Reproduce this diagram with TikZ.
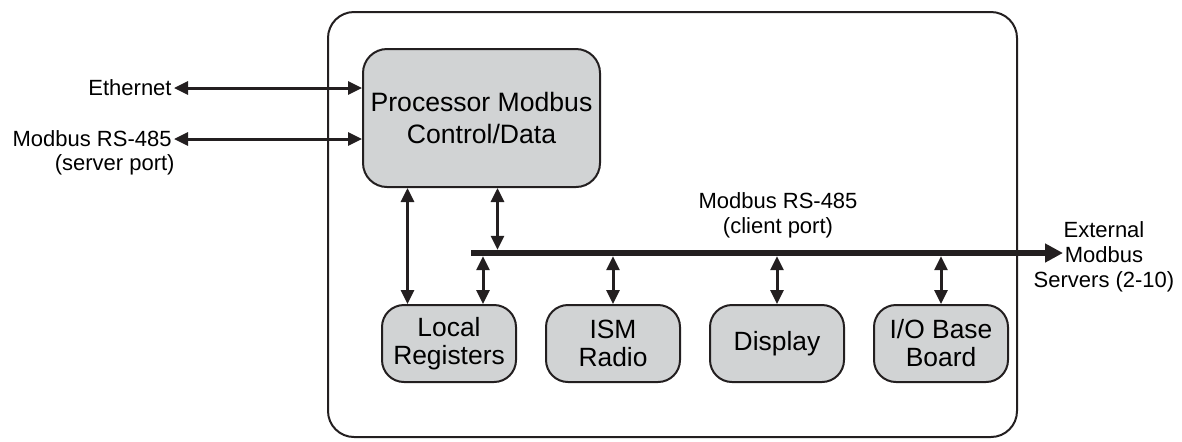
\documentclass[tikz,border=0pt]{standalone}
\usepackage{fontspec}
\setmainfont{Liberation Sans}
\usetikzlibrary{arrows.meta, positioning}
\definecolor{boxgray}{HTML}{D1D3D4}
\definecolor{inkdark}{HTML}{231F20}

\begin{document}
\begin{tikzpicture}[x=0.5pt, y=-0.5pt, node distance=14pt,
  procbox/.style={rectangle, draw=inkdark, line width=1pt, rounded corners=12pt, fill=boxgray, minimum width=118.5pt, minimum height=69pt, align=center, font=\fontsize{13.3}{16}\selectfont},
  unitbox/.style={rectangle, draw=inkdark, line width=1pt, rounded corners=11pt, fill=boxgray, minimum width=67pt, minimum height=38.5pt, inner sep=1pt, align=center, font=\fontsize{13.2}{14}\selectfont},
  lbl/.style={inner sep=1pt, align=center, font=\fontsize{11}{12.4}\selectfont},
  dbl/.style={{Triangle[length=7pt,width=6.5pt]}-{Triangle[length=7pt,width=6.5pt]}, line width=1.5pt, draw=inkdark},
  busline/.style={-{Triangle[length=9pt,width=9pt]}, line width=3.3pt, draw=inkdark}]

\useasboundingbox (0,0) rectangle (1182,441);
\draw[inkdark, line width=1pt, rounded corners=13pt] (328,12) rectangle (1017,437);

\node[procbox] (proc) at (481.5,118) {Processor Modbus\\Control/Data};

\node[unitbox] (loc) at (449,343.5) {Local\\Registers};
\node[unitbox, right=of loc] (ism) {ISM\\Radio};
\node[unitbox, right=of ism] (disp) {Display};
\node[unitbox, right=of disp] (iob) {I/O Base\\Board};

% client bus
\coordinate (busL) at (471,253);
\coordinate (busR) at (1063,253);
\draw[busline] (busL) -- (busR);
\node[lbl] (client) at (778,215) {Modbus RS-485\\(client port)};
\node[lbl] (ext) at (1104,257) {External\\Modbus\\Servers (2-10)};

% taps
\coordinate (p1) at ([xshift=-37pt]proc.south);
\coordinate (p2) at ([xshift=8pt]proc.south);
\coordinate (l2) at ([xshift=17pt]loc.north);
\draw[dbl] (p1) -- (p1 |- loc.north);
\draw[dbl, shorten >=1.6pt] (p2) -- (p2 |- busL);
\draw[dbl, shorten <=1.6pt] (l2 |- busL) -- (l2);
\foreach \n in {ism, disp, iob}
  \draw[dbl, shorten <=1.6pt] (\n.north |- busL) -- (\n.north);

% server side
\node[lbl, anchor=east] (eth) at (174,88) {Ethernet};
\draw[dbl] (eth.east) -- (eth.east -| proc.west);
\node[lbl, anchor=east] (srv) at (174,139) {Modbus RS-485};
\node[lbl, anchor=east] (srvport) at (177,165) {(server port)};
\draw[dbl] (srv.east) -- (srv.east -| proc.west);
\end{tikzpicture}
\end{document}
